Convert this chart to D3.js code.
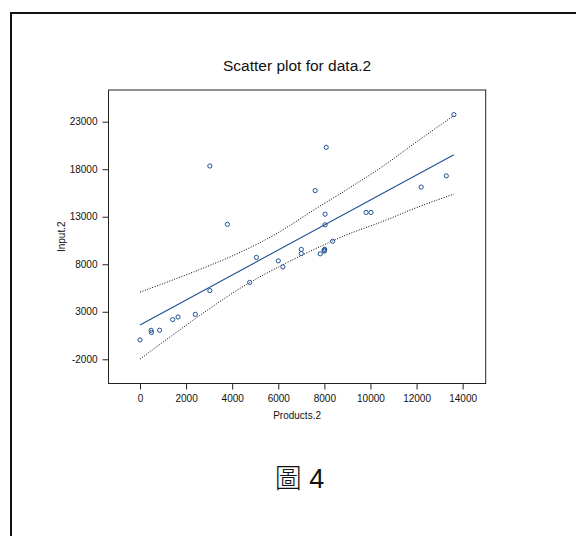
<!DOCTYPE html>
<html>
<head>
<meta charset="utf-8">
<script src="https://cdn.jsdelivr.net/npm/d3@7"></script>
<style>
  html, body { margin: 0; padding: 0; background: #fff; }
  svg { display: block; }
</style>
</head>
<body>
<svg id="chart" width="576" height="536"></svg>
<script>
// Observations: Products.2 (x) vs Input.2 (y)
const products = [0, 480, 500, 850, 1420, 1650, 2400, 3030, 3030, 3790,
                  4760, 5050, 6000, 6200, 7000, 7000, 7600, 7820, 7990, 8000,
                  8010, 8030, 8030, 8080, 8360, 9810, 10020, 12200, 13290, 13620];
const inputs   = [40, 1050, 820, 1060, 2180, 2450, 2730, 5230, 18340, 12200,
                  6090, 8720, 8360, 7730, 9560, 9120, 15750, 9100, 9480, 9380,
                  9580, 13270, 12150, 20300, 10420, 13450, 13450, 16120, 17300, 23740];

// Fitted regression line (end points)
const fitX = [0, 13620];
const fitY = [1610, 19530];

// Confidence band around the fit
const bandX     = [0, 1500, 3000, 4500, 6000, 7500, 9000, 10500, 12000, 13620];
const bandUpper = [5070, 6420, 7850, 9430, 11330, 13650, 15900, 18250, 20880, 23650];
const bandLower = [-1980, 700, 3300, 5700, 7700, 9500, 11130, 12480, 13960, 15380];

// Axis ticks
const xTicks = [0, 2000, 4000, 6000, 8000, 10000, 12000, 14000];
const yTicks = [-2000, 3000, 8000, 13000, 18000, 23000];

const titleText = "Scatter plot for data.2";
const xTitle = "Products.2";
const yTitle = "Input.2";
const caption = ["圖", " 4"];

const svg = d3.select("#chart");
const blue = "#1f4f91";
const sans = "'Liberation Sans', Arial, sans-serif";

// plot frame
const L = 108.5, R = 485.7, T = 90, B = 383.5;

const x = d3.scaleLinear().domain([-1367, 15000]).range([L, R]);
const y = d3.scaleLinear().domain([-4546, 26335]).range([B, T]);

// page border (top and left edges)
svg.append("path")
  .attr("d", `M11,540 L11,13 L580,13`)
  .attr("fill", "none")
  .attr("stroke", "#111")
  .attr("stroke-width", 2);

// title
svg.append("text")
  .attr("x", (L + R) / 2)
  .attr("y", 71)
  .attr("text-anchor", "middle")
  .attr("font-family", sans)
  .attr("font-size", 15.5)
  .attr("fill", "#111")
  .text(titleText);

// frame
svg.append("rect")
  .attr("x", L).attr("y", T)
  .attr("width", R - L).attr("height", B - T)
  .attr("fill", "none")
  .attr("stroke", "#222")
  .attr("stroke-width", 1);

// axes (plain hyphen for negatives)
const plain = d => String(d);
const xAxis = svg.append("g")
  .attr("transform", `translate(0,${B})`)
  .call(d3.axisBottom(x).tickValues(xTicks).tickSize(6).tickPadding(5).tickFormat(plain));
const yAxis = svg.append("g")
  .attr("transform", `translate(${L},0)`)
  .call(d3.axisLeft(y).tickValues(yTicks).tickSize(6).tickPadding(5).tickFormat(plain));

[xAxis, yAxis].forEach(g => {
  g.select(".domain").remove();
  g.selectAll(".tick line").attr("stroke", "#222");
  g.selectAll(".tick text")
    .attr("font-family", sans)
    .attr("font-size", 10)
    .attr("fill", "#111");
});

// axis titles
svg.append("text")
  .attr("x", (L + R) / 2)
  .attr("y", 419)
  .attr("text-anchor", "middle")
  .attr("font-family", sans)
  .attr("font-size", 10)
  .attr("fill", "#111")
  .text(xTitle);

svg.append("text")
  .attr("transform", `translate(65.3,${(T + B) / 2}) rotate(-90)`)
  .attr("text-anchor", "middle")
  .attr("font-family", sans)
  .attr("font-size", 10)
  .attr("fill", "#111")
  .text(yTitle);

// confidence band (dotted)
const bandLine = d3.line()
  .x(d => x(d[0]))
  .y(d => y(d[1]))
  .curve(d3.curveMonotoneX);

[bandUpper, bandLower].forEach(vals => {
  svg.append("path")
    .datum(bandX.map((v, i) => [v, vals[i]]))
    .attr("d", bandLine)
    .attr("fill", "none")
    .attr("stroke", "#000")
    .attr("stroke-width", 1)
    .attr("stroke-dasharray", "1 1.6");
});

// regression line
svg.append("path")
  .datum(fitX.map((v, i) => [v, fitY[i]]))
  .attr("d", d3.line().x(d => x(d[0])).y(d => y(d[1])))
  .attr("fill", "none")
  .attr("stroke", blue)
  .attr("stroke-width", 1.1);

// points
svg.append("g")
  .selectAll("circle")
  .data(products.map((v, i) => [v, inputs[i]]))
  .join("circle")
  .attr("cx", d => x(d[0]))
  .attr("cy", d => y(d[1]))
  .attr("r", 2.1)
  .attr("fill", "none")
  .attr("stroke", blue)
  .attr("stroke-width", 1);

// caption
const cap = svg.append("text")
  .attr("x", 299.5)
  .attr("y", 488)
  .attr("text-anchor", "middle")
  .attr("font-size", 27)
  .attr("fill", "#111");
cap.append("tspan")
  .attr("font-family", "'Noto Sans CJK TC', 'Noto Sans CJK SC', sans-serif")
  .attr("font-weight", 300)
  .text(caption[0]);
cap.append("tspan")
  .attr("font-family", sans)
  .text(caption[1]);
</script>
</body>
</html>
